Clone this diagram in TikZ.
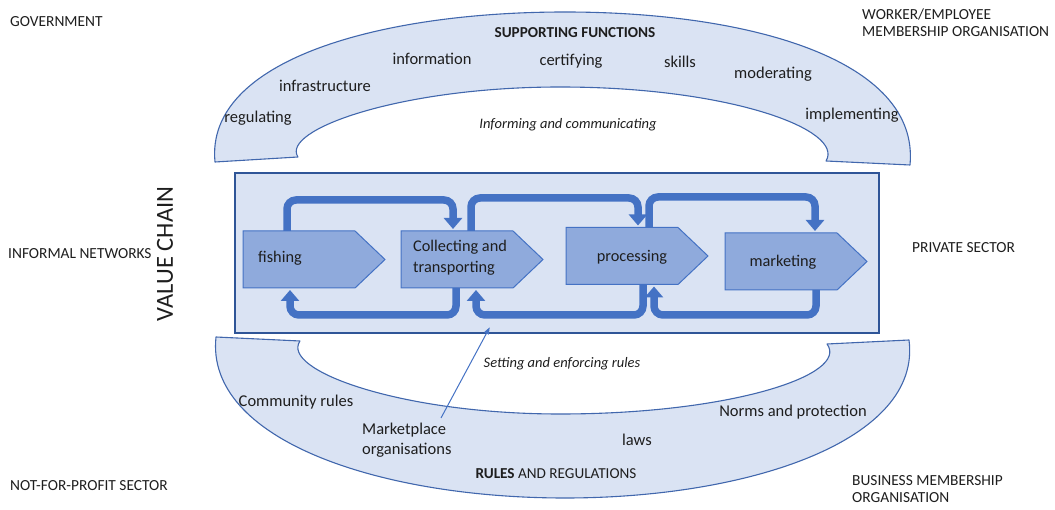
\documentclass[tikz,border=0pt]{standalone}
\usepackage{fontspec}
\setmainfont{Carlito}
\usetikzlibrary{arrows.meta,calc}
\definecolor{archfill}{HTML}{DAE3F3}
\definecolor{archline}{HTML}{4167AD}
\definecolor{boxline}{HTML}{2F5597}
\definecolor{chevfill}{HTML}{8FAADC}
\definecolor{chevline}{HTML}{4472C4}
\definecolor{flowblue}{HTML}{4472C4}
\definecolor{txt}{HTML}{1E1E1E}
\begin{document}
\begin{tikzpicture}[x=1pt,y=-1pt,
  arch/.style={fill=archfill,draw=archline,line width=1.1pt,line join=round},
  vcbox/.style={draw=boxline,line width=2.5pt,fill=archfill,minimum width=644pt,minimum height=160pt,inner sep=0pt},
  body/.style={minimum width=112pt,minimum height=57pt,inner sep=0pt,outer sep=0pt},
  chev/.style={fill=chevfill,draw=chevline,line width=1pt,line join=miter},
  flow/.style={draw=flowblue,line width=7.5pt,rounded corners=9pt,-{Triangle[width=18pt,length=11pt]}},
  thin/.style={draw=flowblue,line width=1pt,-{Triangle[width=5pt,length=7pt]}},
  side/.style={font=\fontsize{15.4}{17}\selectfont,text=txt,inner sep=0pt,anchor=west,align=left},
  lbl/.style={font=\fontsize{16.5}{20}\selectfont,text=txt,inner sep=0pt},
  clabel/.style={font=\fontsize{16.3}{21}\selectfont,text=txt,inner sep=0pt},
  ital/.style={font=\fontsize{14.5}{17}\selectfont\itshape,text=txt,inner sep=0pt},
  head/.style={font=\fontsize{15.2}{17}\selectfont,text=txt,inner sep=0pt}
]
\useasboundingbox (0,0) rectangle (1055,510);

% upper arch
\path[arch] (215,162) .. controls (205,60) and (380,12) .. (565,12)
  .. controls (750,12) and (920,60) .. (910,165) -- (826,161)
  .. controls (845,130) and (730,87) .. (560,87)
  .. controls (400,87) and (280,130) .. (298,157) -- cycle;

% lower arch
\path[arch] (216,337) -- (300,341) .. controls (280,370) and (400,414) .. (560,414)
  .. controls (730,414) and (850,375) .. (827,344) -- (909,340)
  .. controls (922,440) and (750,498) .. (565,498)
  .. controls (380,498) and (205,440) .. (216,337) -- cycle;

% value chain box
\node[vcbox] (vc) at (557,253) {};

% chevrons
\node[body] (fish) at (299,259.5) {};
\node[body] (coll) at (457,259.5) {};
\node[body] (proc) at (622,256) {};
\node[body] (mark) at (781,261.5) {};
\foreach \n in {fish,coll,proc,mark}
  \draw[chev] (\n.north west) -- (\n.north east) -- ([xshift=30pt]\n.east) -- (\n.south east) -- (\n.south west) -- cycle;

\node[clabel] (tfish) at (280,258) {fishing};
\node[clabel,align=left,anchor=west] (tcoll) at (413,257.5) {Collecting and\\transporting};
\node[clabel] (tproc) at (632,257) {processing};
\node[clabel] (tmark) at (783,262) {marketing};

% flow arrows (top)
\draw[flow] ([xshift=44pt]fish.north west) -- ++(0,-31) -| ([xshift=52pt,yshift=2pt]coll.north west);
\draw[flow] ([xshift=70pt]coll.north west) -- ++(0,-33) -| ([xshift=72pt,yshift=2pt]proc.north west);
\draw[flow] ([xshift=83pt]proc.north west) -- ++(0,-30.5) -| ([xshift=90pt,yshift=2pt]mark.north west);
% flow arrows (bottom)
\draw[flow] ([xshift=55pt]coll.south west) -- ++(0,27) -| ([xshift=47pt,yshift=-2pt]fish.south west);
\draw[flow] ([xshift=77pt]proc.south west) -- ++(0,30.5) -| ([xshift=75pt,yshift=-2pt]coll.south west);
\draw[flow] ([xshift=91pt]mark.south west) -- ++(0,25) -| ([xshift=88pt,yshift=-2pt]proc.south west);

% side labels
\node[side] (gov) at (10,22) {GOVERNMENT};
\node[side] (worker) at (862,22.5) {WORKER/EMPLOYEE\\MEMBERSHIP ORGANISATION};
\node[side] (informal) at (8,254) {INFORMAL NETWORKS};
\node[side] (private) at (912,248) {PRIVATE SECTOR};
\node[side] (nfp) at (10,486) {NOT-FOR-PROFIT SECTOR};
\node[side] (business) at (852,489) {BUSINESS MEMBERSHIP\\ORGANISATION};
\node[font=\fontsize{24.5}{28}\selectfont,text=txt,rotate=90,inner sep=0pt] (vcl) at (165,254) {VALUE CHAIN};

% supporting functions
\node[head] (sf) at (575,33) {\bfseries SUPPORTING FUNCTIONS};
\node[lbl] (info) at (432,59) {information};
\node[lbl] (cert) at (571,61) {certifying};
\node[lbl] (skills) at (680,62) {skills};
\node[lbl] (moder) at (773,74) {moderating};
\node[lbl] (infra) at (325,86) {infrastructure};
\node[lbl] (regul) at (258,118) {regulating};
\node[lbl] (impl) at (852,115) {implementing};
\node[ital] (inform) at (568,125) {Informing and communicating};

% rules and regulations
\node[ital] (setting) at (562,364) {Setting and enforcing rules};
\node[lbl] (comm) at (296,402) {Community rules};
\node[lbl,align=left,anchor=west] (mkt) at (362,440) {Marketplace\\organisations};
\node[lbl] (laws) at (637,440) {laws};
\node[lbl] (norms) at (793,412) {Norms and protection};
\node[head] (rr) at (556,474) {{\bfseries RULES} AND REGULATIONS};

% marketplace arrow
\coordinate (mktstart) at (441,418);
\draw[thin] (mktstart) -- ([xshift=256pt,yshift=7pt]vc.south west);
\end{tikzpicture}
\end{document}
